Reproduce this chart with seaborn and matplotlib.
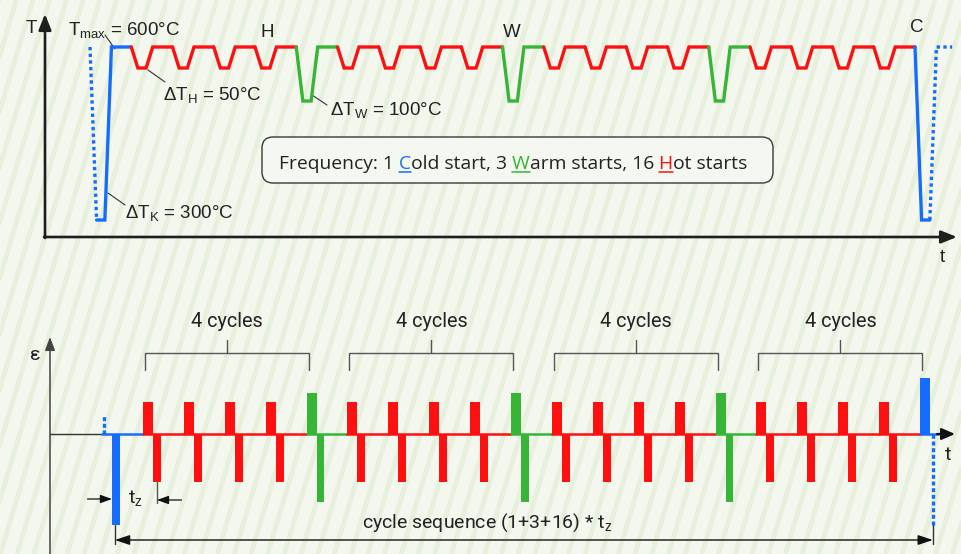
import numpy as np
import seaborn as sns
import matplotlib.pyplot as plt
from matplotlib.patches import FancyBboxPatch
from matplotlib.lines import Line2D

sns.set_theme(style="white")
plt.rcParams["font.family"] = ["Liberation Sans", "DejaVu Sans"]
plt.rcParams["mathtext.fontset"] = "custom"
plt.rcParams["mathtext.rm"] = "Liberation Sans"
plt.rcParams["mathtext.it"] = "Liberation Sans:italic"

# cycle sequence, one entry per t_z (the last C is the start of the next sequence)
starts = ["C", "H", "H", "H", "H", "W", "H", "H", "H", "H", "W",
          "H", "H", "H", "H", "W", "H", "H", "H", "H", "C"]
t_max_level = 190                          # drawn height of Tmax above the t axis
dip_depth = {"H": 21, "W": 54, "C": 173}   # drawn dips for dT = 50 / 100 / 300 °C
dip_shape = [0.0, 0.16, 0.36, 0.52, 1.0]   # down, hold, up, dwell (fraction of t_z)
tail_end = 0.9                             # how much of the next cold start is shown
eps_pos = {"H": 32, "W": 41, "C": 56}
eps_neg = {"H": -48, "W": -68, "C": -91}
cold_stub = 19                             # visible rest of the previous cold pulse
pulse_w = [0.245, 0.195]                   # tension / compression pulse width (t_z)
groups = [1, 6, 11, 16]                    # first hot start of each "4 cycles" block
colors = {"H": "#ff1010", "W": "#36b536", "C": "#156cff"}
ink = "#222222"
sans = ["Liberation Sans", "DejaVu Sans"]
din = ["Roboto", "DejaVu Sans"]
wide = ["Open Sans", "DejaVu Sans"]

W, H = 962, 554
fig = plt.figure(figsize=(W / 100, H / 100), dpi=100, facecolor="#f3f7ee")


def px_axes(l, t, r, b):
    return fig.add_axes([l / W, 1 - b / H, (r - l) / W, (b - t) / H])


# background with the light diagonal stripes, also used for the free texts
bg = px_axes(0, 0, W, H)
bg.set_xlim(0, W)
bg.set_ylim(H, 0)
bg.set_axis_off()
for x0 in np.arange(-200, W + 20, 16.7):
    bg.plot([x0, x0 + 0.3 * H], [H, 0], color="#e6f0dd", lw=3.4,
            solid_capstyle="butt", zorder=0.5)

# ---------------- temperature history ----------------
ax_t = px_axes(45, 15, 955, 237)
last = len(starts) - 1
for i, k in enumerate(starts):
    d = dip_depth[k]
    xs = [i + f for f in dip_shape]
    ys = [t_max_level, t_max_level - d, t_max_level - d, t_max_level, t_max_level]
    if i == 0:
        parts = [(xs[:2], ys[:2], (0, (1, 1))), (xs[1:], ys[1:], "-")]
    elif i == last:
        xs[-1] = i + tail_end
        parts = [(xs[:3], ys[:3], "-"), (xs[2:], ys[2:], (0, (1, 1)))]
    else:
        parts = [(xs, ys, "-")]
    for px, py, ls in parts:
        sns.lineplot(x=px, y=py, sort=False, estimator=None, color=colors[k],
                     lw=2.4, linestyle=ls, solid_joinstyle="miter", ax=ax_t)
ax_t.set_xlim((45 - 90) / 41.25, (955 - 90) / 41.25)
ax_t.set_ylim(0, 222)
ax_t.set_axis_off()

# ---------------- strain history ----------------
ax_b = px_axes(50, 300, 955, 554)
x_lo, x_hi = (50 - 102) / 40.9, (955 - 102) / 40.9
sns.lineplot(x=[x_lo, 0], y=[0, 0], color="#333333", lw=1.0, estimator=None, ax=ax_b)
for i, k in enumerate(starts):
    c = colors[k]
    end = i + 1 if i < last else i + 0.45
    sns.lineplot(x=[i, end], y=[0, 0], color=c, lw=1.8, estimator=None, ax=ax_b)
    if i == 0:
        sns.lineplot(x=[i + 0.06, i + 0.06], y=[0, cold_stub], color=c, lw=2.4,
                     linestyle=(0, (1.2, 0.8)), estimator=None, ax=ax_b)
    else:
        ax_b.bar(i, eps_pos[k], width=pulse_w[0], align="edge", color=c, lw=0, zorder=3)
    if i == last:
        xn = i + pulse_w[0] + 0.07
        sns.lineplot(x=[xn, xn], y=[0, eps_neg[k]], color=c, lw=2.4,
                     linestyle=(0, (1.2, 0.8)), estimator=None, ax=ax_b)
    else:
        ax_b.bar(i + pulse_w[0], eps_neg[k], width=pulse_w[1], align="edge",
                 color=c, lw=0, zorder=3)

ax_b.annotate("", xy=(x_hi, 0), xytext=(last + 0.42, 0),
              arrowprops=dict(arrowstyle="-|>,head_length=0.8,head_width=0.35",
                              color="#111111", lw=1.6, shrinkA=0, shrinkB=0,
                              mutation_scale=10))

# "4 cycles" brackets
for g in groups:
    a, b = g + 0.05, g + 4.06
    m = (a + b) / 2
    sns.lineplot(x=[a, a, b, b], y=[64, 81, 81, 64], sort=False, estimator=None,
                 color="#555555", lw=1.0, ax=ax_b)
    sns.lineplot(x=[m, m], y=[81, 94], estimator=None, color="#555555", lw=1.0, ax=ax_b)
    ax_b.text(m, 107, "4 cycles", ha="center", va="baseline", fontsize=14.3,
              family=din, color=ink)

# t_z dimension
small_arrow = dict(arrowstyle="-|>,head_length=0.7,head_width=0.25", color="#111111",
                   lw=0.9, shrinkA=0, shrinkB=0, mutation_scale=10)
xa = pulse_w[0]
xb = 1 + pulse_w[0] + pulse_w[1] / 2
ax_b.annotate("", xy=(xa, -65), xytext=(xa - 0.6, -65), arrowprops=small_arrow)
sns.lineplot(x=[xb, xb], y=[eps_neg["H"], -69], estimator=None, color="#555555",
             lw=1.0, ax=ax_b)
ax_b.annotate("", xy=(xb, -66), xytext=(xb + 0.6, -66), arrowprops=small_arrow)

# whole sequence dimension
xl = pulse_w[0] + 0.07
xr = last + pulse_w[0] + 0.07
for x in (xl, xr):
    sns.lineplot(x=[x, x], y=[eps_neg["C"], -110], estimator=None, color="#333333",
                 lw=1.0, ax=ax_b)
ax_b.annotate("", xy=(xl, -106), xytext=(xr, -106),
              arrowprops=dict(arrowstyle="<|-|>,head_length=0.9,head_width=0.3",
                              color="#111111", lw=1.0, shrinkA=0, shrinkB=0,
                              mutation_scale=10))
ax_b.set_xlim(x_lo, x_hi)
ax_b.set_ylim(-120, 134)
ax_b.set_axis_off()

# ---------------- axes arrows ----------------
axis_arrow = dict(arrowstyle="-|>,head_length=0.95,head_width=0.38", color="#1e1e1e",
                  lw=1.9, shrinkA=0, shrinkB=0, mutation_scale=10)
bg.annotate("", xy=(45, 14), xytext=(45, 238), arrowprops=axis_arrow)
bg.annotate("", xy=(957, 237), xytext=(44, 237), arrowprops=axis_arrow)
bg.annotate("", xy=(50, 337), xytext=(50, 560),
            arrowprops=dict(arrowstyle="-|>,head_length=0.8,head_width=0.3",
                            color="#444444", lw=1.1, shrinkA=0, shrinkB=0,
                            mutation_scale=10))

# ---------------- labels ----------------
lab = dict(va="baseline", fontsize=13.5, color=ink, family=sans)
bg.text(31, 33, "T", ha="center", **lab)
bg.text(68, 35, r"T$_\mathrm{max}$ = 600°C", ha="left", **lab)
bg.text(163, 100, r"ΔT$_\mathrm{H}$ = 50°C", ha="left", **lab)
bg.text(330, 115, r"ΔT$_\mathrm{W}$ = 100°C", ha="left", **lab)
bg.text(125, 218, r"ΔT$_\mathrm{K}$ = 300°C", ha="left", **lab)
bg.text(267, 37, "H", ha="center", **lab)
bg.text(512, 37, "W", ha="center", **lab)
bg.text(917, 32, "C", ha="center", **lab)
bg.text(942, 262, "t", ha="center", **lab)
for x0, y0, x1, y1 in [(105, 35, 115, 49), (148, 70, 165, 82),
                       (312, 95, 327, 105), (108, 193, 125, 205)]:
    bg.plot([x0, x1], [y0, y1], color="#333333", lw=0.8, zorder=3)

bl = dict(va="baseline", fontsize=14, color=ink, family=din)
bg.text(35, 360, "ε", ha="center", **bl)
bg.text(948, 460, "t", ha="center", **bl)
bg.text(128, 503, r"t$_\mathrm{z}$", ha="left", **bl)
bg.text(487, 528, r"cycle sequence (1+3+16) * t$_\mathrm{z}$", ha="center", **bl)

# legend box with coloured initials
bg.add_patch(FancyBboxPatch((262, 137), 511, 46, boxstyle="round,pad=0,rounding_size=11",
                            fc="#f5f8f1", ec="#3a3a3a", lw=1.0, zorder=1))
pieces = [("Frequency: 1", ink), (" C", colors["C"]), ("old start, 3", ink),
          (" W", colors["W"]), ("arm starts, 16", ink), (" H", colors["H"]),
          ("ot starts", ink)]
prev = bg.text(279, 169, pieces[0][0], va="baseline", ha="left", fontsize=13.85,
               family=wide, color=ink, zorder=4)
coloured = []
for s, c in pieces[1:]:
    prev = bg.annotate(s, xy=(1, 0), xycoords=prev, va="bottom", ha="left",
                       fontsize=13.85, family=wide, color=c, zorder=4)
    if c != ink:
        coloured.append(prev)

fig.canvas.draw()
renderer = fig.canvas.get_renderer()
for t in coloured:
    bb = t.get_window_extent(renderer)
    wl, _, _ = renderer.get_text_width_height_descent(t.get_text().strip(),
                                                      t.get_fontproperties(), ismath=False)
    fig.add_artist(Line2D([(bb.x1 - wl) / W, bb.x1 / W], [1 - 172 / H, 1 - 172 / H],
                          color=t.get_color(), lw=1.1))

fig.savefig("out.png", dpi=100, facecolor=fig.get_facecolor())
